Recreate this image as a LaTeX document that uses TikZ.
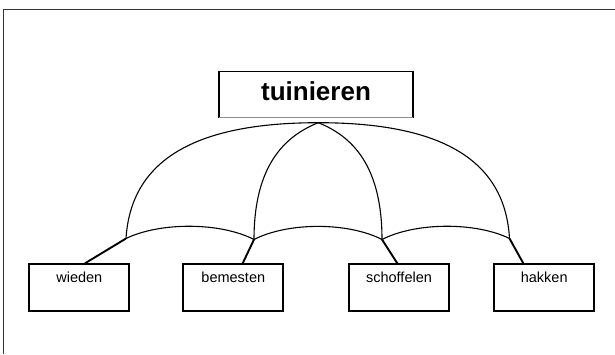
\documentclass[tikz,border=0pt]{standalone}
\usepackage{fontspec}
\setmainfont{Liberation Sans}
\begin{document}
\begin{tikzpicture}[x=1pt,y=-1pt,
  box/.style={draw=black, line width=1.8pt, minimum width=100pt, minimum height=47pt,
    inner sep=0pt, font=\fontsize{14.5}{17}\selectfont, text height=11pt, text depth=22.3pt},
  titlebox/.style={draw=none, minimum width=193.4pt, minimum height=45.6pt, inner sep=0pt,
    font=\fontsize{26}{30}\selectfont\bfseries, text height=19pt, text depth=6.6pt},
  tside/.style={line width=1.8pt},
  tbottom/.style={line width=0.8pt, black!45},
  arcline/.style={line width=1.1pt},
  leg/.style={line width=1.9pt},
  frameline/.style={line width=1.3pt, black!80}]
\useasboundingbox (0,0) rectangle (615,354);
\draw[frameline] (3.7,354) -- (3.7,9.3) -- (615,9.3);

\node[titlebox] (t) at (316,94.5) {tuinieren};
\draw[tside] (t.south west) -- (t.north west) -- (t.north east) -- (t.south east);
\draw[tbottom] (t.south west) -- (t.south east);

\node[box] (w) at (79.3,287.7) {wieden};
\node[box] (b) at (233.3,287.7) {bemesten};
\node[box] (s) at (399,287.7) {schoffelen};
\node[box] (h) at (544.2,287.7) {hakken};

\coordinate (apex) at (318.3,122.7);
\coordinate (j1) at (126,238.5);
\coordinate (j2) at (254,239.5);
\coordinate (j3) at (382,239.5);
\coordinate (j4) at (509.5,238.5);

\draw[arcline] (j1) .. controls (131,160) and (195,122.7) .. (apex)
  .. controls (441.6,122.7) and (505,160) .. (j4);
\draw[arcline] (apex) .. controls (285,136) and (254,165) .. (j2);
\draw[arcline] (apex) .. controls (351.6,136) and (382,165) .. (j3);
\draw[arcline] (j1) .. controls (160,222) and (220,222) .. (j2)
  .. controls (288,222) and (348,222) .. (j3)
  .. controls (416,222) and (476,222) .. (j4);

\draw[leg] (j1) -- ([xshift=5.7pt]w.north);
\draw[leg] (j2) -- ([xshift=9.4pt]b.north);
\draw[leg] (j3) -- ([xshift=-1.7pt]s.north);
\draw[leg] (j4) -- ([xshift=-20.9pt]h.north);
\end{tikzpicture}
\end{document}
